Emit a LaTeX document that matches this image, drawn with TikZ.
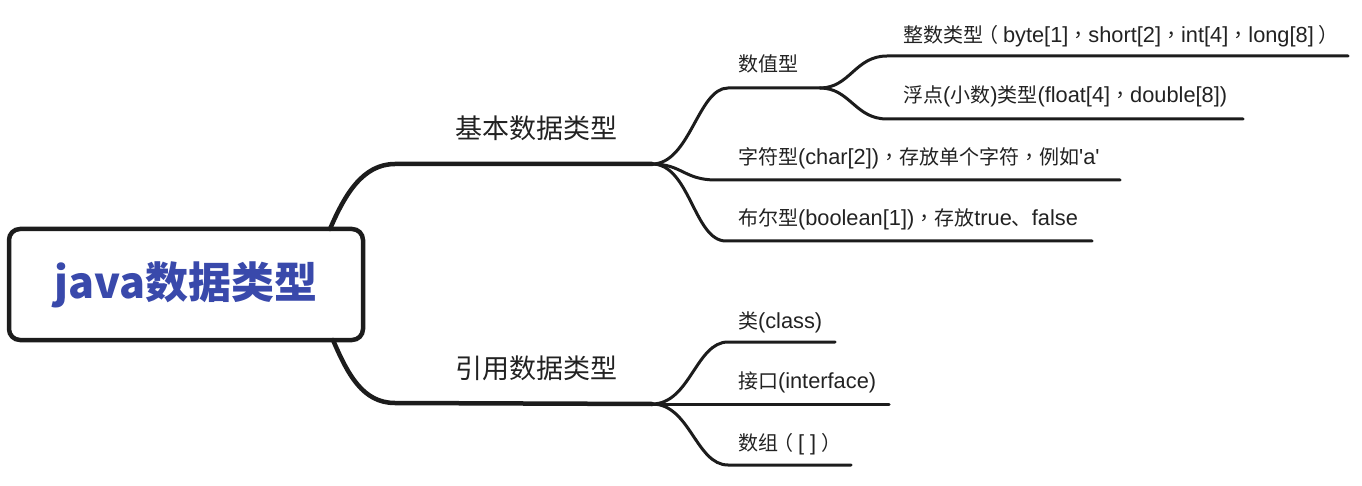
\documentclass[tikz,border=0pt]{standalone}
\usepackage{fontspec}
\setmainfont{Liberation Sans}[Ligatures=TeXOff,Scale=1.09]
\newfontfamily\cjkfont{Noto Sans CJK SC}
\newfontfamily\punctfont{Noto Sans CJK TC}
\newcommand\zh[1]{{\cjkfont #1}}
\newcommand\pz[1]{{\punctfont #1}}
% full-width brackets set centred in their em box
\newcommand\lpar{{\punctfont\kern-5pt（\kern5pt}}
\newcommand\rpar{{\punctfont\kern5pt）\kern-5pt}}
\definecolor{ink}{HTML}{1C1C1C}
\definecolor{txt}{HTML}{222222}
\definecolor{rootblue}{HTML}{3949AB}
\begin{document}
\begin{tikzpicture}[x=1pt,y=-1pt,
  every node/.style={inner sep=0pt,outer sep=0pt},
  leaf/.style={anchor=base west,text=txt,font=\fontsize{20pt}{24pt}\selectfont},
  topic/.style={anchor=base,text=txt,font=\cjkfont\fontsize{27pt}{32pt}\selectfont},
  rootbox/.style={draw=ink,line width=4.5pt,rounded corners=11pt,fill=white,
    minimum width=354pt,minimum height=111pt,text=rootblue,
    font=\cjkfont\bfseries\fontsize{43pt}{48pt}\selectfont},
  trunk/.style={draw=ink,line width=4.5pt,line cap=round},
  twig/.style={draw=ink,line width=3pt,line cap=round}]
\useasboundingbox (0,0) rectangle (1362,486);

% central topic
\node[rootbox] (root) at (186,284.5) {java数据类型};

% main topics
\node[topic] (basic) at (536,139) {基本数据类型};
\node[topic] (ref) at (536,378) {引用数据类型};

% leaves
\node[leaf] (num) at (738,72) {\zh{数值型}};
\node[leaf] (int) at (903,43) {\zh{整数类型}\lpar byte[1]\pz{，}short[2]\pz{，}int[4]\pz{，}long[8]\rpar};
\node[leaf] (flt) at (903,103) {\zh{浮点}(\zh{小数})\zh{类型}(float[4]\pz{，}double[8])};
\node[leaf] (chr) at (738,165) {\zh{字符型}(char[2])\pz{，}\zh{存放单个字符}\pz{，}\zh{例如}'a'};
\node[leaf] (bool) at (738,226) {\zh{布尔型}(boolean[1])\pz{，}\zh{存放}true\zh{、}false};
\node[leaf] (cls) at (738,328) {\zh{类}(class)};
\node[leaf] (itf) at (738,388) {\zh{接口}(interface)};
\node[leaf] (arr) at (738,450) {\zh{数组}\lpar[ ]\rpar};

% branch points
\coordinate (b1s) at ([xshift=-33pt]root.north east);
\coordinate (b2s) at ([xshift=-30pt]root.south east);
\coordinate (b1h) at (395,164);
\coordinate (b2h) at (395,403);
\coordinate (j1) at (652,164);
\coordinate (j2) at (652,404);
\coordinate (jn) at (820,88);
\coordinate (numh) at (728,88);
\coordinate (inth) at (887,56);   \coordinate (inte) at (1348,56);
\coordinate (flth) at (887,119);  \coordinate (flte) at (1243,119);
\coordinate (chrh) at (716,180);  \coordinate (chre) at (1120,180);
\coordinate (boolh) at (726,241); \coordinate (boole) at (1092,241);
\coordinate (clsh) at (728,342);  \coordinate (clse) at (835,342);
\coordinate (itfe) at (889,404);
\coordinate (arrh) at (728,465);  \coordinate (arre) at (851,465);

% main branches
\draw[trunk] (b1s) .. controls +(15,-35) and +(-32,0) .. (b1h) -- (j1);
\draw[trunk] (b2s) .. controls +(15,35) and +(-32,0) .. (b2h) -- (j2);

% basic types
\draw[twig] (j1) .. controls +(38,0) and +(-30,0) .. (numh) -- (jn);
\draw[twig] (jn) .. controls +(30,0) and +(-32,0) .. (inth) -- (inte);
\draw[twig] (jn) .. controls +(30,0) and +(-32,0) .. (flth) -- (flte);
\draw[twig] (j1) .. controls +(30,0) and +(-32,0) .. (chrh) -- (chre);
\draw[twig] (j1) .. controls +(38,0) and +(-32,0) .. (boolh) -- (boole);

% reference types
\draw[twig] (j2) .. controls +(38,0) and +(-32,0) .. (clsh) -- (clse);
\draw[twig] (j2) -- (itfe);
\draw[twig] (j2) .. controls +(38,0) and +(-32,0) .. (arrh) -- (arre);
\end{tikzpicture}
\end{document}
